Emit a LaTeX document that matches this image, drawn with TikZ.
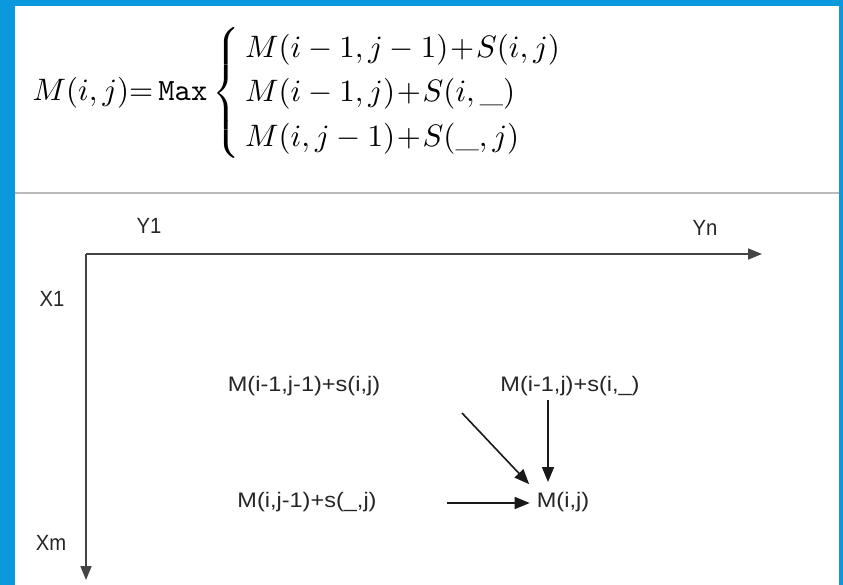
\documentclass[tikz,border=0pt]{standalone}
\usepackage{amsmath}
\usepackage{fontspec}
\newfontfamily\axisfont[FakeStretch=0.92]{Liberation Sans}
\newfontfamily\termfont[FakeStretch=1.12]{Liberation Sans}
\usetikzlibrary{arrows.meta}
\definecolor{frameblue}{HTML}{0A99DD}
\definecolor{axisgray}{HTML}{444444}

\tikzset{
  axis/.style = {draw=axisgray, line width=1.7pt, -{Triangle[length=14pt,width=11pt]}},
  link/.style = {draw=black!90, line width=1.6pt, -{Triangle[length=15pt,width=12pt]}},
  axislbl/.style = {inner sep=0pt, font=\axisfont\fontsize{22}{24}\selectfont, text=black!85},
  term/.style = {inner sep=2pt, font=\termfont\fontsize{21}{23}\selectfont, text=black!85},
}

\begin{document}
\begin{tikzpicture}[x=1pt, y=-1pt]
  \useasboundingbox (0,0) rectangle (843,585);
  % frame
  \fill[frameblue] (0,0) rectangle (843,585);
  \fill[white] (15,6) rectangle (839,585);

  % recurrence
  \node[anchor=west, inner sep=0pt, scale=3.1, transform shape] (eq) at (32,93)
    {$M(i,j){=}\,\texttt{Max}\begin{cases}
       \,M(i-1,j-1)\!+\!S(i,j)\\
       \,M(i-1,j)\!+\!S(i,\_)\\
       \,M(i,j-1)\!+\!S(\_,j)
     \end{cases}$};
  \coordinate (sepL) at (15,193);
  \coordinate (sepR) at (839,193);
  \draw[gray!55, line width=1.2pt] (sepL) -- (sepR);

  % axes
  \coordinate (O) at (86,254);
  \coordinate (Yend) at (762,254);
  \coordinate (Xend) at (86,580);
  \draw[axis] (O) -- (Yend);
  \draw[axis] (O) -- (Xend);

  \node[axislbl] (Y1) at (149,226) {Y1};
  \node[axislbl] (Yn) at (705,228) {Yn};
  \node[axislbl] (X1) at (52,299) {X1};
  \node[axislbl] (Xm) at (51,543) {Xm};

  % terms
  \node[term] (diag) at (304,386) {M(i-1,j-1)+s(i,j)};
  \node[term] (up)   at (570,386) {M(i-1,j)+s(i,\_)};
  \node[term] (left) at (307,502) {M(i,j-1)+s(\_,j)};
  \node[term] (Mij)  at (563,502) {M(i,j)};

  \coordinate (dstart) at (462,413);
  \coordinate (vstart) at (548,400);
  \coordinate (hstart) at (447,503);
  \draw[link, shorten >=8pt] (dstart) -- (Mij.north west);
  \draw[link, shorten >=8pt] (vstart) -- (vstart |- Mij.north);
  \draw[link, shorten >=5pt] (hstart) -- (Mij.west |- hstart);
\end{tikzpicture}
\end{document}
